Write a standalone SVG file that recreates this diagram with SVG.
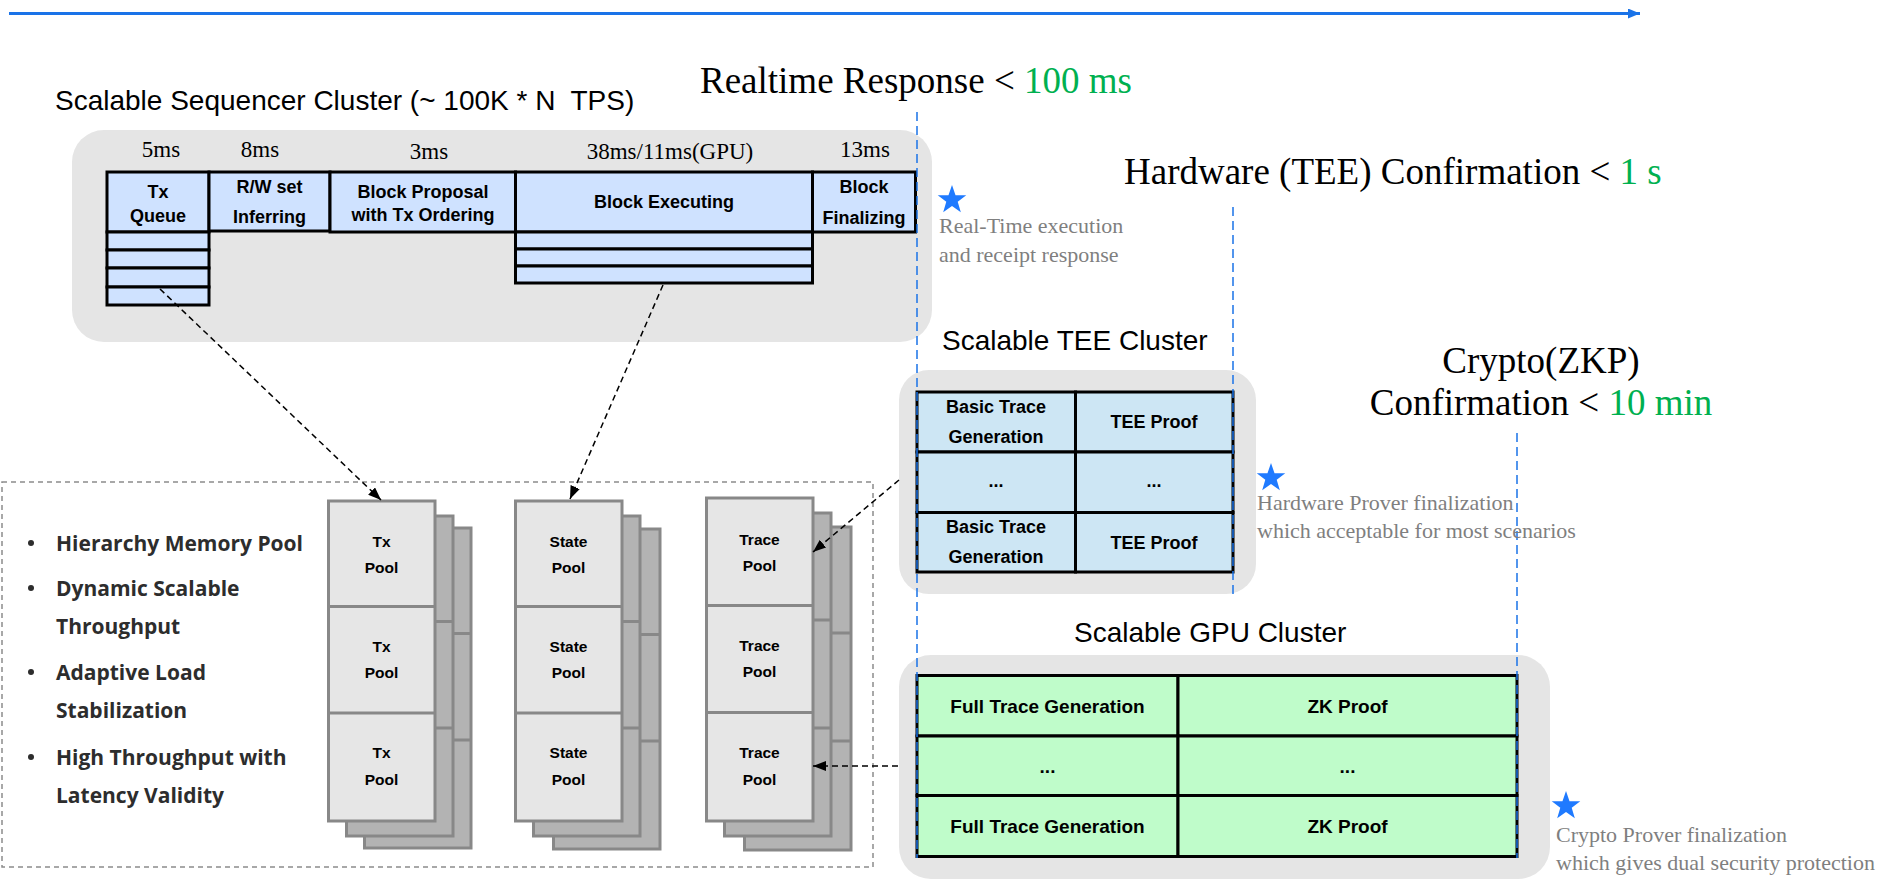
<svg xmlns="http://www.w3.org/2000/svg" width="1902" height="890" viewBox="0 0 1902 890">
<defs>
<style>
.panel{fill:#e5e5e5}
.seq{fill:#cfe2ff;stroke:#000;stroke-width:3}
.tee{fill:#cde6f4;stroke:#000;stroke-width:3}
.gpu{fill:#bffcca;stroke:#000;stroke-width:3}
.pf{fill:#e6e6e6;stroke:#888;stroke-width:3}
.pb{fill:#b3b3b3;stroke:#888;stroke-width:3}
.dv{stroke:#888;stroke-width:3}
.b18{font-family:"Liberation Sans",Arial,sans-serif;font-weight:bold;font-size:18px;text-anchor:middle;fill:#000}
.b19{font-family:"Liberation Sans",Arial,sans-serif;font-weight:bold;font-size:19px;text-anchor:middle;fill:#000}
.b15{font-family:"Liberation Sans",Arial,sans-serif;font-weight:bold;font-size:15.5px;text-anchor:middle;fill:#000}
.ms{font-family:"Liberation Serif",serif;font-size:23px;text-anchor:middle;fill:#000}
.hdr{font-family:"Liberation Serif",serif;font-size:37px;fill:#000}
.grn{fill:#00b050}
.note{font-family:"Liberation Serif",serif;font-size:22px;fill:#7f7f7f}
.title{font-family:"Liberation Sans",Arial,sans-serif;font-size:28px;fill:#000}
.bul{font-family:"Open Sans","Noto Sans",sans-serif;font-weight:bold;font-size:21px;fill:#2d2d2d}
.vline{stroke:#1a73e8;stroke-width:1.5;stroke-dasharray:9 5;fill:none}
.conn{stroke:#000;stroke-width:1.5;stroke-dasharray:6 4;fill:none;marker-end:url(#ah)}
.star{fill:#1f7aff}
</style>
<marker id="ah" markerWidth="13" markerHeight="10" refX="13" refY="5" orient="auto" markerUnits="userSpaceOnUse"><path d="M0,0 L13,5 L0,10 z" fill="#000"/></marker>
<marker id="bh" markerWidth="12" markerHeight="10" refX="12" refY="5" orient="auto" markerUnits="userSpaceOnUse"><path d="M0,0 L12,5 L0,10 z" fill="#1a73e8"/></marker>
<path id="star" d="M0,-15 L3.53,-4.85 L14.27,-4.64 L5.71,1.85 L8.82,12.14 L0,6 L-8.82,12.14 L-5.71,1.85 L-14.27,-4.64 L-3.53,-4.85 Z"/>
</defs>

<!-- timeline arrow -->
<line x1="9" y1="13.5" x2="1640" y2="13.5" stroke="#1a73e8" stroke-width="3" marker-end="url(#bh)"/>

<!-- headers -->
<g id="headers">
<text class="title" x="55" y="110" xml:space="preserve">Scalable Sequencer Cluster (~ 100K * N  TPS)</text>
<text class="hdr" x="700" y="93">Realtime Response &lt; <tspan class="grn">100 ms</tspan></text>
<text class="hdr" x="1124" y="184">Hardware (TEE) Confirmation &lt; <tspan class="grn">1 s</tspan></text>
<text class="hdr" x="1541" y="373" text-anchor="middle">Crypto(ZKP)</text>
<text class="hdr" x="1541" y="415" text-anchor="middle">Confirmation &lt; <tspan class="grn">10 min</tspan></text>
<text class="title" x="942" y="350">Scalable TEE Cluster</text>
<text class="title" x="1074" y="642">Scalable GPU Cluster</text>
</g>

<!-- Sequencer cluster -->
<g id="sequencer">
<rect class="panel" x="72" y="130" width="860" height="212" rx="32"/>
<text class="ms" x="161" y="157">5ms</text>
<text class="ms" x="260" y="157">8ms</text>
<text class="ms" x="429" y="159">3ms</text>
<text class="ms" x="670" y="159">38ms/11ms(GPU)</text>
<text class="ms" x="865" y="157">13ms</text>
<g id="txqueue">
<rect class="seq" x="107" y="172" width="102" height="60"/>
<rect class="seq" x="107" y="232" width="102" height="18"/>
<rect class="seq" x="107" y="250" width="102" height="18"/>
<rect class="seq" x="107" y="268" width="102" height="19"/>
<rect class="seq" x="107" y="287" width="102" height="18"/>
<text class="b18" x="158" y="198">Tx</text>
<text class="b18" x="158" y="222">Queue</text>
</g>
<g id="rwset">
<rect class="seq" x="209" y="172" width="121" height="59"/>
<text class="b18" x="269.5" y="193">R/W set</text>
<text class="b18" x="269.5" y="223">Inferring</text>
</g>
<g id="proposal">
<rect class="seq" x="330" y="172" width="185.5" height="60"/>
<text class="b18" x="423" y="198">Block Proposal</text>
<text class="b18" x="423" y="221">with Tx Ordering</text>
</g>
<g id="executing">
<rect class="seq" x="515.5" y="172" width="297" height="60"/>
<rect class="seq" x="515.5" y="232" width="297" height="17"/>
<rect class="seq" x="515.5" y="249" width="297" height="17"/>
<rect class="seq" x="515.5" y="266" width="297" height="17"/>
<text class="b18" x="664" y="208">Block Executing</text>
</g>
<g id="finalizing">
<rect class="seq" x="812.5" y="172" width="103" height="60"/>
<text class="b18" x="864" y="193">Block</text>
<text class="b18" x="864" y="224">Finalizing</text>
</g>
</g>

<!-- TEE cluster -->
<g id="tee-cluster">
<rect class="panel" x="899" y="370" width="357" height="224" rx="30"/>
<rect class="tee" x="917" y="392" width="158.5" height="60"/>
<rect class="tee" x="1075.5" y="392" width="157.5" height="60"/>
<rect class="tee" x="917" y="452" width="158.5" height="60.5"/>
<rect class="tee" x="1075.5" y="452" width="157.5" height="60.5"/>
<rect class="tee" x="917" y="512.5" width="158.5" height="59.5"/>
<rect class="tee" x="1075.5" y="512.5" width="157.5" height="59.5"/>
<text class="b18" x="996" y="413">Basic Trace</text>
<text class="b18" x="996" y="443">Generation</text>
<text class="b18" x="1154" y="428">TEE Proof</text>
<text class="b18" x="996" y="487">...</text>
<text class="b18" x="1154" y="487">...</text>
<text class="b18" x="996" y="533">Basic Trace</text>
<text class="b18" x="996" y="563">Generation</text>
<text class="b18" x="1154" y="549">TEE Proof</text>
</g>

<!-- GPU cluster -->
<g id="gpu-cluster">
<rect class="panel" x="899" y="655" width="651" height="224" rx="32"/>
<rect class="gpu" x="917" y="675.5" width="261" height="60.5"/>
<rect class="gpu" x="1178" y="675.5" width="339" height="60.5"/>
<rect class="gpu" x="917" y="736" width="261" height="59.5"/>
<rect class="gpu" x="1178" y="736" width="339" height="59.5"/>
<rect class="gpu" x="917" y="795.5" width="261" height="61"/>
<rect class="gpu" x="1178" y="795.5" width="339" height="61"/>
<text class="b19" x="1047.5" y="713">Full Trace Generation</text>
<text class="b19" x="1347.5" y="713">ZK Proof</text>
<text class="b19" x="1047.5" y="773">...</text>
<text class="b19" x="1347.5" y="773">...</text>
<text class="b19" x="1047.5" y="833">Full Trace Generation</text>
<text class="b19" x="1347.5" y="833">ZK Proof</text>
</g>

<!-- timing guide lines -->
<g id="guides">
<line class="vline" x1="917" y1="112" x2="917" y2="858"/>
<line class="vline" x1="1233" y1="207" x2="1233" y2="594"/>
<line class="vline" x1="1517" y1="433" x2="1517" y2="858"/>
</g>

<!-- annotations -->
<g id="notes">
<use href="#star" class="star" x="952" y="200"/>
<text class="note" x="939" y="233">Real-Time execution</text>
<text class="note" x="939" y="262">and receipt response</text>
<use href="#star" class="star" x="1271" y="478"/>
<text class="note" x="1257" y="510">Hardware Prover finalization</text>
<text class="note" x="1257" y="538">which acceptable for most scenarios</text>
<use href="#star" class="star" x="1566" y="806"/>
<text class="note" x="1556" y="842">Crypto Prover finalization</text>
<text class="note" x="1556" y="870">which gives dual security protection</text>
</g>

<!-- memory pool area -->
<g id="pool-area">
<rect x="2" y="482" width="871" height="385" fill="none" stroke="#8c8c8c" stroke-width="1.5" stroke-dasharray="5 4"/>
<g id="features">
<circle cx="31" cy="543" r="3" fill="#2d2d2d"/>
<circle cx="31" cy="588" r="3" fill="#2d2d2d"/>
<circle cx="31" cy="672" r="3" fill="#2d2d2d"/>
<circle cx="31" cy="757" r="3" fill="#2d2d2d"/>
<text class="bul" x="56" y="551">Hierarchy Memory Pool</text>
<text class="bul" x="56" y="596">Dynamic Scalable</text>
<text class="bul" x="56" y="634">Throughput</text>
<text class="bul" x="56" y="680">Adaptive Load</text>
<text class="bul" x="56" y="718">Stabilization</text>
<text class="bul" x="56" y="765">High Throughput with</text>
<text class="bul" x="56" y="803">Latency Validity</text>
</g>
</g>

<g id="txpool">
<rect class="pb" x="364.5" y="528" width="106.5" height="320"/>
<line class="dv" x1="364.5" y1="633.5" x2="471" y2="633.5"/>
<line class="dv" x1="364.5" y1="740" x2="471" y2="740"/>
<rect class="pb" x="346.5" y="516" width="106.5" height="320"/>
<line class="dv" x1="346.5" y1="621.5" x2="453" y2="621.5"/>
<line class="dv" x1="346.5" y1="728" x2="453" y2="728"/>
<rect class="pf" x="328.5" y="501" width="106.5" height="320"/>
<line class="dv" x1="328.5" y1="606.5" x2="435" y2="606.5"/>
<line class="dv" x1="328.5" y1="713" x2="435" y2="713"/>
<text class="b15" x="381.5" y="547">Tx</text>
<text class="b15" x="381.5" y="573">Pool</text>
<text class="b15" x="381.5" y="652">Tx</text>
<text class="b15" x="381.5" y="678">Pool</text>
<text class="b15" x="381.5" y="758">Tx</text>
<text class="b15" x="381.5" y="785">Pool</text>
</g>

<g id="statepool">
<rect class="pb" x="553.5" y="529" width="106.5" height="320"/>
<line class="dv" x1="553.5" y1="634.5" x2="660" y2="634.5"/>
<line class="dv" x1="553.5" y1="741" x2="660" y2="741"/>
<rect class="pb" x="533.5" y="516" width="106.5" height="320"/>
<line class="dv" x1="533.5" y1="621.5" x2="640" y2="621.5"/>
<line class="dv" x1="533.5" y1="728" x2="640" y2="728"/>
<rect class="pf" x="515.5" y="501" width="106.5" height="320"/>
<line class="dv" x1="515.5" y1="606.5" x2="622" y2="606.5"/>
<line class="dv" x1="515.5" y1="713" x2="622" y2="713"/>
<text class="b15" x="568.5" y="547">State</text>
<text class="b15" x="568.5" y="573">Pool</text>
<text class="b15" x="568.5" y="652">State</text>
<text class="b15" x="568.5" y="678">Pool</text>
<text class="b15" x="568.5" y="758">State</text>
<text class="b15" x="568.5" y="785">Pool</text>
</g>

<g id="tracepool">
<rect class="pb" x="744.5" y="527" width="106.5" height="323"/>
<line class="dv" x1="744.5" y1="633" x2="851" y2="633"/>
<line class="dv" x1="744.5" y1="741" x2="851" y2="741"/>
<rect class="pb" x="724.5" y="513" width="106.5" height="323"/>
<line class="dv" x1="724.5" y1="620" x2="831" y2="620"/>
<line class="dv" x1="724.5" y1="728" x2="831" y2="728"/>
<rect class="pf" x="706.5" y="498" width="106.5" height="323"/>
<line class="dv" x1="706.5" y1="605.5" x2="813" y2="605.5"/>
<line class="dv" x1="706.5" y1="712.5" x2="813" y2="712.5"/>
<text class="b15" x="759.5" y="545">Trace</text>
<text class="b15" x="759.5" y="571">Pool</text>
<text class="b15" x="759.5" y="651">Trace</text>
<text class="b15" x="759.5" y="677">Pool</text>
<text class="b15" x="759.5" y="758">Trace</text>
<text class="b15" x="759.5" y="785">Pool</text>
</g>

<!-- connectors -->
<g id="connectors">
<line class="conn" x1="160" y1="289" x2="381" y2="500"/>
<line class="conn" x1="663" y1="285" x2="570" y2="499"/>
<line class="conn" x1="899" y1="480" x2="813" y2="552"/>
<line class="conn" x1="898" y1="766" x2="813" y2="766"/>
</g>
</svg>
